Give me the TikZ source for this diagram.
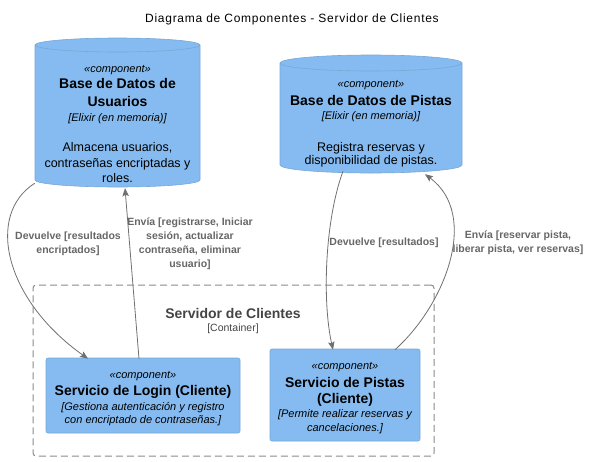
\documentclass[tikz,border=0pt]{standalone}
\usepackage{fontspec}
\setmainfont{Liberation Sans}
\usetikzlibrary{arrows.meta}
\definecolor{compfill}{HTML}{85BBF0}
\definecolor{compline}{HTML}{78A8D8}
\definecolor{arrowcol}{HTML}{707070}
\definecolor{labelcol}{HTML}{666666}
\definecolor{contcol}{HTML}{444444}
\definecolor{dashcol}{HTML}{8A8A8A}
\begin{document}
\begin{tikzpicture}[x=1pt,y=1pt,
  titletext/.style={anchor=base,inner sep=0pt,font=\fontsize{12}{14}\selectfont\addfontfeatures{LetterSpace=6}},
  stereo/.style={anchor=base,inner sep=0pt,font=\fontsize{11}{13}\selectfont\itshape},
  cname/.style={anchor=base,inner sep=0pt,font=\fontsize{14}{16}\selectfont\bfseries},
  tech/.style={anchor=base,inner sep=0pt,font=\fontsize{11}{13}\selectfont\itshape},
  desc/.style={anchor=base,inner sep=0pt,font=\fontsize{12.5}{15}\selectfont},
  lbl/.style={inner sep=0pt,align=center,text=labelcol,font=\fontsize{10.5}{14}\selectfont\bfseries},
  flow/.style={draw=arrowcol,line width=0.8pt,-{Stealth[length=8pt,width=6.5pt,inset=1.5pt]}},
  compbox/.style={draw=compline,fill=compfill,line width=0.6pt,rounded corners=2pt,inner sep=0pt},
  dbbody/.style={draw=compline,fill=compfill,line width=0.6pt},
  contbox/.style={draw=dashcol,line width=1pt,dash pattern=on 7pt off 4pt,rounded corners=3pt,inner sep=0pt},
  ]
\useasboundingbox (0,0) rectangle (591,-461);

% title
\node[titletext] (title) at (292,-22) {Diagrama de Componentes - Servidor de Clientes};

% container
\node[contbox,minimum width=401pt,minimum height=171pt] (cont) at (233.5,-370.5) {};
\node[anchor=base,inner sep=0pt,text=contcol,font=\fontsize{14}{16}\selectfont\bfseries] (contname) at (233,-318) {Servidor de Clientes};
\node[anchor=base,inner sep=0pt,text=contcol,font=\fontsize{10.5}{12}\selectfont] (conttype) at (233,-331) {[Container]};

% database 1
\path[dbbody] (35,-45) -- (35,-180) arc[start angle=180,end angle=360,x radius=82.5,y radius=7]
  -- (200,-45) arc[start angle=0,end angle=180,x radius=82.5,y radius=7] -- cycle;
\draw[compline,line width=0.6pt] (35,-45) arc[start angle=180,end angle=360,x radius=82.5,y radius=7];
\node[inner sep=0pt,minimum width=165pt,minimum height=149pt] (db1) at (117.5,-112.5) {};
\node[stereo] (db1s) at (117.5,-72) {«component»};
\node[cname] (db1n1) at (117.5,-88) {Base de Datos de};
\node[cname] (db1n2) at (117.5,-106) {Usuarios};
\node[tech] (db1t) at (117.5,-121) {[Elixir (en memoria)]};
\node[desc] (db1d1) at (117.5,-151) {Almacena usuarios,};
\node[desc] (db1d2) at (117.5,-167) {contraseñas encriptadas y};
\node[desc] (db1d3) at (117.5,-182) {roles.};

% database 2
\path[dbbody] (280,-63) -- (280,-165) arc[start angle=180,end angle=360,x radius=91,y radius=8]
  -- (462,-63) arc[start angle=0,end angle=180,x radius=91,y radius=8] -- cycle;
\draw[compline,line width=0.6pt] (280,-63) arc[start angle=180,end angle=360,x radius=91,y radius=8];
\node[inner sep=0pt,minimum width=182pt,minimum height=118pt] (db2) at (371,-114) {};
\node[stereo] (db2s) at (371,-87) {«component»};
\node[cname] (db2n) at (371,-105) {Base de Datos de Pistas};
\node[tech] (db2t) at (371,-119) {[Elixir (en memoria)]};
\node[desc] (db2d1) at (371,-151) {Registra reservas y};
\node[desc] (db2d2) at (371,-164) {disponibilidad de pistas.};

% login service
\node[compbox,minimum width=194pt,minimum height=75pt] (login) at (143,-395.5) {};
\node[stereo] (logins) at (143,-378) {«component»};
\node[cname] (loginn) at (143,-395) {Servicio de Login (Cliente)};
\node[tech] (logind1) at (143,-410) {[Gestiona autenticación y registro};
\node[tech] (logind2) at (143,-423) {con encriptado de contraseñas.]};

% pistas service
\node[compbox,minimum width=150pt,minimum height=92pt] (pistas) at (345,-395) {};
\node[stereo] (pistass) at (345,-369) {«component»};
\node[cname] (pistasn1) at (345,-387) {Servicio de Pistas};
\node[cname] (pistasn2) at (345,-403) {(Cliente)};
\node[tech] (pistasd1) at (345,-417) {[Permite realizar reservas y};
\node[tech] (pistasd2) at (345,-431) {cancelaciones.]};

% connectors
\draw[flow] ([yshift=4pt]db1.south west) .. controls (-15,-215) and (5,-300) .. ([xshift=-55pt,yshift=-1pt]login.north);
\draw[flow] ([xshift=-4pt,yshift=-1pt]login.north) -- ([xshift=7.5pt,yshift=-1pt]db1.south);
\draw[flow] ([xshift=-28pt,yshift=2pt]db2.south) .. controls (325,-220) and (322,-300) .. ([xshift=-12pt,yshift=-1pt]pistas.north);
\draw[flow] ([xshift=50pt,yshift=-1pt]pistas.north) .. controls (445,-305) and (480,-215) .. ([xshift=54pt,yshift=-1pt]db2.south);

% labels
\node[lbl] (l1) at (68,-243.5) {Devuelve [resultados\\encriptados]};
\node[lbl] (l2) at (190,-244) {Envía [registrarse, Iniciar\\sesión, actualizar\\contraseña, eliminar\\usuario]};
\node[lbl] (l3) at (384,-243) {Devuelve [resultados]};
\node[lbl] (l4) at (518,-243) {Envía [reservar pista,\\liberar pista, ver reservas]};
\end{tikzpicture}
\end{document}
